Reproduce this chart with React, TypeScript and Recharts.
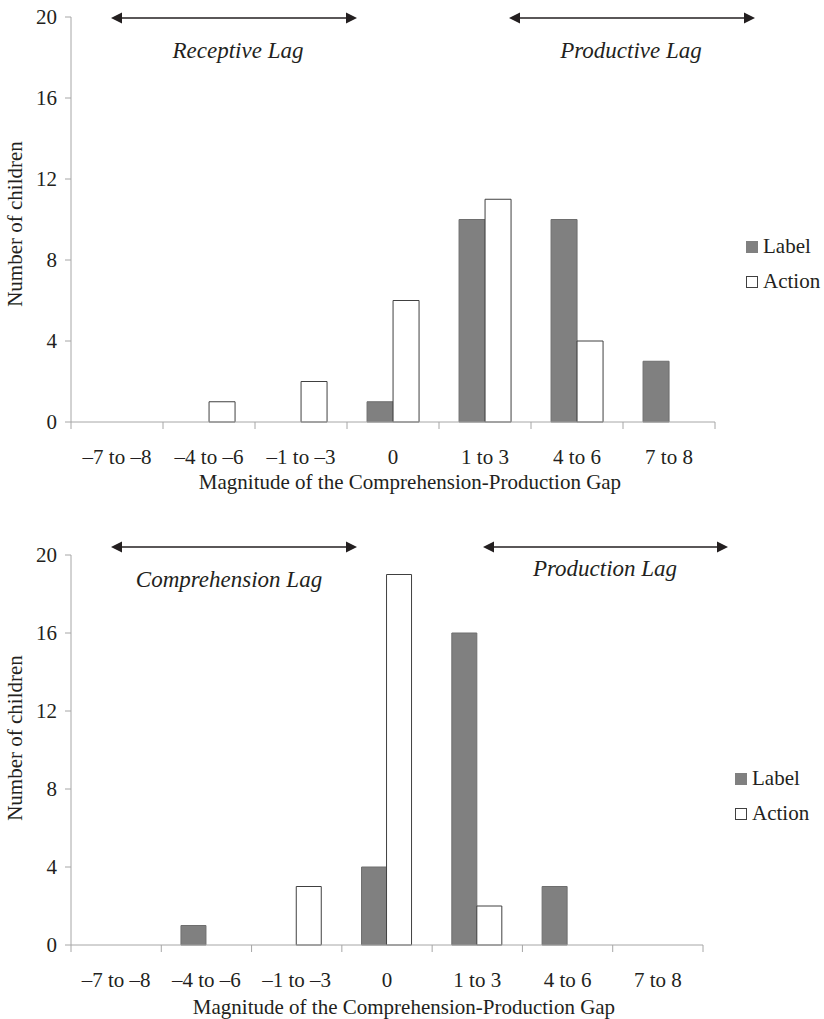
import React from 'react';
import { BarChart, Bar, XAxis, YAxis } from 'recharts';

const categories = ['–7 to –8', '–4 to –6', '–1 to –3', '0', '1 to 3', '4 to 6', '7 to 8'];
const topLabel = [0, 0, 0, 1, 10, 10, 3];
const topAction = [0, 1, 2, 6, 11, 4, 0];
const bottomLabel = [0, 1, 0, 4, 16, 3, 0];
const bottomAction = [0, 0, 3, 19, 2, 0, 0];
const yTicks = [0, 4, 8, 12, 16, 20];
const seriesNames = ['Label', 'Action'];

const FONT = 'Liberation Serif, DejaVu Serif, serif';
const FS = 21;
const TEXT = '#231f20';
const AXIS = '#a6a6a6';
const LABEL_FILL = '#808080';
const LABEL_STROKE = '#6e6e6e';
const ACTION_STROKE = '#404040';

const build = (a: number[], b: number[]) =>
  categories.map((c, i) => ({ cat: c, Label: a[i], Action: b[i] }));

const makeXTick = (bw: number, n: number) => (props: any) => {
  const { x, y, payload, index } = props;
  return (
    <g>
      <line x1={x - bw / 2} x2={x - bw / 2} y1={y} y2={y + 7} stroke={AXIS} />
      {index === n - 1 && <line x1={x + bw / 2} x2={x + bw / 2} y1={y} y2={y + 7} stroke={AXIS} />}
      <text x={x} y={y + 42} textAnchor="middle" fontFamily={FONT} fontSize={FS} fill={TEXT}>
        {payload.value}
      </text>
    </g>
  );
};

const LegendBox = ({ left, top, gap }: { left: number; top: number; gap: number }) => (
  <div style={{ position: 'absolute', left, top, fontFamily: FONT, fontSize: FS, color: TEXT, lineHeight: 1 }}>
    {seriesNames.map((n, i) => (
      <div key={n} style={{ display: 'flex', alignItems: 'center', height: gap }}>
        <span
          style={{
            display: 'inline-block',
            width: 12,
            height: 12,
            boxSizing: 'border-box',
            background: i === 0 ? LABEL_FILL : '#fff',
            border: `1px solid ${i === 0 ? LABEL_FILL : ACTION_STROKE}`,
            marginRight: 5,
          }}
        />
        <span>{n}</span>
      </div>
    ))}
  </div>
);

type PanelProps = {
  top: number;
  height: number;
  data: any[];
  margin: { top: number; right: number; left: number; bottom: number };
};

const Panel = ({ top, height, data, margin }: PanelProps) => {
  const plotW = 824 - margin.left - 60 - margin.right;
  const bw = plotW / categories.length;
  return (
    <div style={{ position: 'absolute', left: 0, top }}>
      <BarChart
        width={824}
        height={height}
        data={data}
        margin={margin}
        barCategoryGap="21.8%"
        barGap={0}
      >
        <XAxis
          dataKey="cat"
          axisLine={{ stroke: AXIS }}
          tickLine={false}
          tickSize={0}
          tickMargin={0}
          height={40}
          interval={0}
          tick={makeXTick(bw, categories.length)}
        />
        <YAxis
          domain={[0, 20]}
          ticks={yTicks}
          width={60}
          axisLine={{ stroke: AXIS }}
          tickLine={{ stroke: AXIS }}
          tickSize={6}
          tickMargin={8}
          tick={{ fontFamily: FONT, fontSize: FS, fill: TEXT }}
        />
        <Bar dataKey="Label" fill={LABEL_FILL} stroke={LABEL_STROKE} strokeWidth={1} isAnimationActive={false} />
        <Bar dataKey="Action" fill="#ffffff" stroke={ACTION_STROKE} strokeWidth={1} isAnimationActive={false} />
      </BarChart>
    </div>
  );
};

const Arrow = ({ x1, x2, y }: { x1: number; x2: number; y: number }) => (
  <g>
    <line x1={x1 + 8} x2={x2 - 8} y1={y} y2={y} stroke="#231f20" strokeWidth={1.6} />
    <polygon points={`${x1},${y} ${x1 + 11},${y - 5.5} ${x1 + 11},${y + 5.5}`} fill="#231f20" />
    <polygon points={`${x2},${y} ${x2 - 11},${y - 5.5} ${x2 - 11},${y + 5.5}`} fill="#231f20" />
  </g>
);

const ItalicText = ({ x, y, children }: { x: number; y: number; children: React.ReactNode }) => (
  <text x={x} y={y} textAnchor="middle" dominantBaseline="central" fontFamily={FONT} fontStyle="italic" fontSize={23} fill={TEXT}>
    {children}
  </text>
);

const PlainText = ({ x, y, rotate, children }: { x: number; y: number; rotate?: boolean; children: React.ReactNode }) => (
  <text
    x={x}
    y={y}
    textAnchor="middle"
    dominantBaseline="central"
    fontFamily={FONT}
    fontSize={FS}
    fill={TEXT}
    transform={rotate ? `rotate(-90 ${x} ${y})` : undefined}
  >
    {children}
  </text>
);

export default function App() {
  return (
    <div style={{ position: 'absolute', left: 0, top: 0, width: 824, height: 1019, background: '#fff', overflow: 'hidden' }}>
      <Panel
        top={0}
        height={500}
        data={build(topLabel, topAction)}
        margin={{ top: 17, right: 109, left: 11, bottom: 38 }}
      />
      <Panel
        top={520}
        height={499}
        data={build(bottomLabel, bottomAction)}
        margin={{ top: 35, right: 121, left: 11, bottom: 34 }}
      />
      <LegendBox left={746} top={229} gap={35} />
      <LegendBox left={735} top={761} gap={35} />
      <svg width={824} height={1019} style={{ position: 'absolute', left: 0, top: 0, pointerEvents: 'none' }}>
        <Arrow x1={111} x2={357} y={18} />
        <Arrow x1={509} x2={755} y={18} />
        <ItalicText x={238} y={50}>Receptive Lag</ItalicText>
        <ItalicText x={631} y={50}>Productive Lag</ItalicText>
        <PlainText x={15} y={224} rotate>Number of children</PlainText>
        <PlainText x={410} y={482}>Magnitude of the Comprehension-Production Gap</PlainText>

        <Arrow x1={111} x2={357} y={547} />
        <Arrow x1={483} x2={728} y={547} />
        <ItalicText x={229} y={579}>Comprehension Lag</ItalicText>
        <ItalicText x={605} y={568}>Production Lag</ItalicText>
        <PlainText x={15} y={738} rotate>Number of children</PlainText>
        <PlainText x={404} y={1007}>Magnitude of the Comprehension-Production Gap</PlainText>
      </svg>
    </div>
  );
}
